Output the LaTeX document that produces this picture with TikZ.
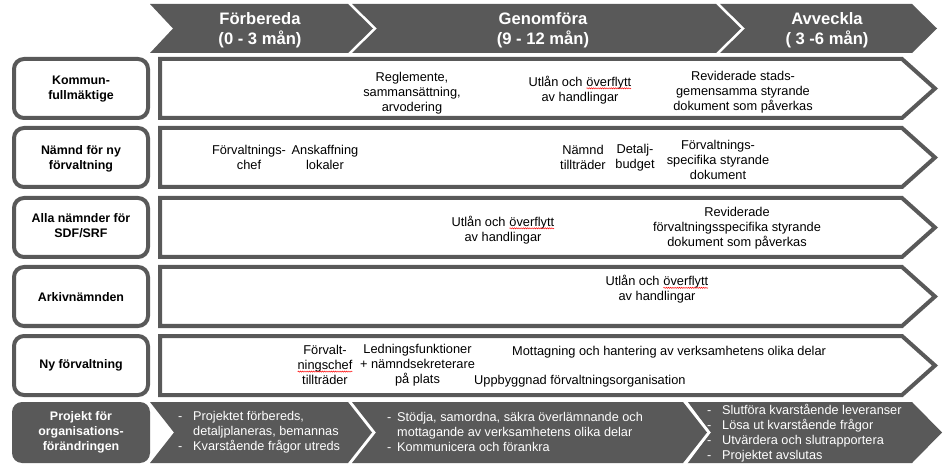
\documentclass[tikz,border=0pt]{standalone}
\usepackage{fontspec}
\setmainfont{Liberation Sans}
\usetikzlibrary{decorations.pathmorphing}
\definecolor{dg}{HTML}{595959}
\newcommand\squig[1]{\tikz[baseline=(sqw.base)]{\node[inner sep=0pt,outer sep=0pt](sqw){#1};\draw[red,line width=0.45pt,decorate,decoration={snake,amplitude=0.6pt,segment length=2.2pt}]([yshift=-2pt]sqw.base west)--([yshift=-2pt]sqw.base east);}}
\begin{document}
\begin{tikzpicture}[x=1pt,y=-1pt,
  hdr/.style={text=white,align=center,inner sep=0pt,font=\fontsize{16.6}{20}\selectfont\bfseries},
  lbl/.style={align=center,inner sep=0pt,font=\fontsize{12.4}{15}\selectfont\bfseries},
  txt/.style={align=center,inner sep=0pt,font=\fontsize{12.8}{15}\selectfont},
  ltxt/.style={align=left,inner sep=0pt,font=\fontsize{12.8}{15}\selectfont},
  ptxt/.style={align=left,inner sep=0pt,text=white,font=\fontsize{12.7}{15}\selectfont},
  labelbox/.style={draw=dg,line width=4pt,rounded corners=10pt,fill=white},
  rowarrow/.style={draw=dg,line width=4pt,fill=white,line join=miter},
  chev/.style={fill=dg}]
\useasboundingbox (0,0) rectangle (945,470);
\fill[white] (0,0) rectangle (945,470);
% header chevrons
\fill[chev] (150,4) -- (348,4) -- (373,28.5) -- (348,53) -- (150,53) -- (173,28.5) -- cycle;
\fill[chev] (352,4) -- (716,4) -- (741,28.5) -- (716,53) -- (352,53) -- (377,28.5) -- cycle;
\fill[chev] (720,4) -- (912,4) -- (937,28.5) -- (912,53) -- (720,53) -- (745,28.5) -- cycle;
\node[hdr] (h1) at (260,30) {Förbereda\\(0 - 3 mån)};
\node[hdr] (h2) at (543,30) {Genomföra\\(9 - 12 mån)};
\node[hdr] (h3) at (827,30) {Avveckla\\( 3 -6 mån)};
% rows
\foreach \t in {59,128,198,267,336}{
  \draw[labelbox] (14,\t) rectangle (148,\t+59);
  \draw[rowarrow] (160,\t) -- (902,\t) -- (935,\t+29.5) -- (902,\t+59) -- (160,\t+59) -- cycle;
}
% project row
\fill[dg,rounded corners=10pt] (12,402) rectangle (150,463);
\fill[chev] (150,402) -- (348,402) -- (372,432.5) -- (348,463) -- (150,463) -- (174,432.5) -- cycle;
\fill[chev] (352,402) -- (683,402) -- (707,432.5) -- (683,463) -- (352,463) -- (376,432.5) -- cycle;
\fill[chev] (687,402) -- (912,402) -- (942,432.5) -- (912,463) -- (687,463) -- (711,432.5) -- cycle;
% labels
\node[lbl] (l1) at (81,89.5) {Kommun-\\fullmäktige};
\node[lbl] (l2) at (81,159) {Nämnd för ny\\förvaltning};
\node[lbl] (l3) at (81,226) {Alla nämnder för\\SDF/SRF};
\node[lbl] (l4) at (81,297) {Arkivnämnden};
\node[lbl] (l5) at (81,365.5) {Ny förvaltning};
\node[lbl,text=white] (l6) at (81,432) {Projekt för\\organisations-\\förändringen};
% row 1
\node[txt] (r1a) at (412,93) {Reglemente,\\sammansättning,\\arvodering};
\node[txt] (r1b) at (580,90) {Utlån och \squig{överflytt}\\av handlingar};
\node[txt] (r1c) at (743,92) {Reviderade stads-\\gemensamma styrande\\dokument som påverkas};
% row 2
\node[txt] (r2a) at (249,157.5) {Förvaltnings-\\chef};
\node[txt] (r2b) at (325,157.5) {Anskaffning\\lokaler};
\node[txt] (r2c) at (583,157.5) {Nämnd\\tillträder};
\node[txt] (r2d) at (635,157.5) {Detalj-\\budget};
\node[txt] (r2e) at (718,160) {Förvaltnings-\\specifika styrande\\dokument};
% row 3
\node[txt] (r3a) at (503,230) {Utlån och \squig{överflytt}\\av handlingar};
\node[txt] (r3b) at (737,228) {Reviderade\\förvaltningsspecifika styrande\\dokument som påverkas};
% row 4
\node[txt] (r4a) at (657,289.5) {Utlån och \squig{överflytt}\\av handlingar};
% row 5
\node[txt] (r5a) at (325,365) {Förvalt-\\\squig{ningschef}\\tillträder};
\node[txt] (r5b) at (417.5,365) {Ledningsfunktioner\\+ nämndsekreterare\\på plats};
\node[ltxt,anchor=west] (r5c) at (512,352) {Mottagning och hantering av verksamhetens olika delar};
\node[ltxt,anchor=west] (r5d) at (474,381) {Uppbyggnad förvaltningsorganisation};
% project texts
\node[ptxt,anchor=west] (p1) at (178,432) {\makebox[15pt][l]{-}Projektet förbereds,\\\hspace*{15pt}detaljplaneras, bemannas\\\makebox[15pt][l]{-}Kvarstående frågor utreds};
\node[ptxt,anchor=west] (p2) at (387,432) {\makebox[10pt][l]{-}Stödja, samordna, säkra överlämnande och\\\hspace*{10pt}mottagande av verksamhetens olika delar\\\makebox[10pt][l]{-}Kommunicera och förankra};
\node[ptxt,anchor=west] (p3) at (707,433) {\makebox[15pt][l]{-}Slutföra kvarstående leveranser\\\makebox[15pt][l]{-}Lösa ut kvarstående frågor\\\makebox[15pt][l]{-}Utvärdera och slutrapportera\\\makebox[15pt][l]{-}Projektet avslutas};
% white chevron boundary over project text (as in reference)
\draw[white,line width=2pt] (685,400) -- (709,432.5) -- (685,465);
\end{tikzpicture}
\end{document}
